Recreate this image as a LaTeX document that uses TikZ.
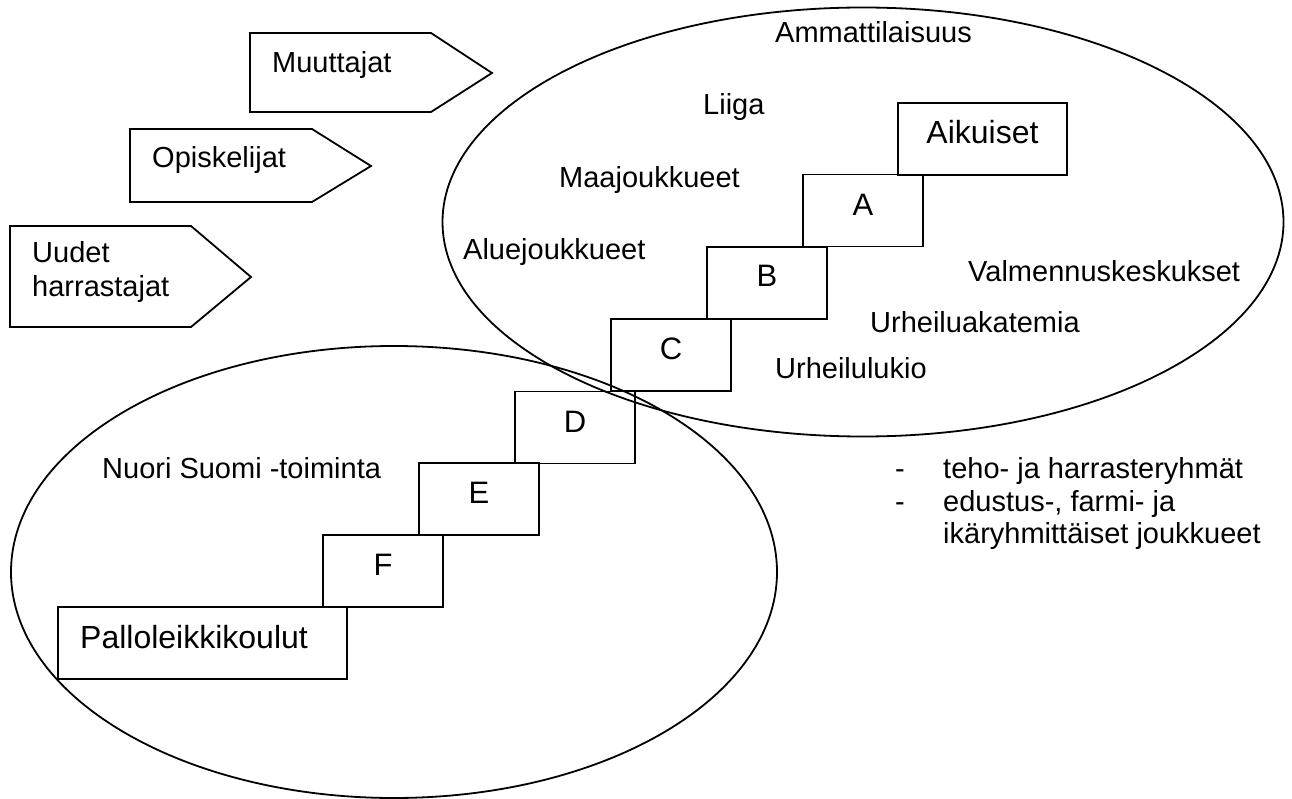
\documentclass[tikz,border=0pt]{standalone}
\usepackage{fontspec}
\setmainfont{Liberation Sans}
\begin{document}
\begin{tikzpicture}[x=1pt,y=-1pt,
  line/.style={line width=1.8pt, line join=miter},
  txt/.style={font=\fontsize{29}{34}\selectfont, inner sep=0pt, anchor=base west},
  btxt/.style={font=\fontsize{32}{36}\selectfont, inner sep=0pt, anchor=base west},
  ctxt/.style={font=\fontsize{31}{36}\selectfont, inner sep=0pt, anchor=base},
  stepbox/.style={draw, line width=1.8pt, minimum width=120pt, minimum height=72pt, inner sep=0pt}]
\useasboundingbox (0,0) rectangle (1292,799);

% ellipses
\draw[line] (863,222) ellipse [x radius=420.5pt, y radius=214.5pt];
\draw[line] (394,572) ellipse [x radius=383pt, y radius=226pt];

% entry arrows (pentagons)
\draw[line] (250,33) -- (431,33) -- (492,73) -- (431,112) -- (250,112) -- cycle;
\draw[line] (130,129) -- (312,129) -- (371,166) -- (312,202) -- (130,202) -- cycle;
\draw[line] (10,226) -- (191,226) -- (251,277) -- (191,327) -- (10,327) -- cycle;
\node[txt] (muut) at (272,73) {Muuttajat};
\node[txt] (opis) at (152,168) {Opiskelijat};
\node[txt] (uud1) at (32,263) {Uudet};
\node[txt] (uud2) at (32,297) {harrastajat};

% steps
\node[stepbox, minimum width=169pt, minimum height=72pt] (aik) at (982.5,139) {};
\node[btxt, anchor=base] (aikt) at (982.5,144) {Aikuiset};
\node[stepbox] (A) at (863,210.5) {};
\node[ctxt] (At) at (863,216) {A};
\node[stepbox] (B) at (767,283) {};
\node[ctxt] (Bt) at (767,287) {B};
\node[stepbox] (C) at (671,355) {};
\node[ctxt] (Ct) at (671,359) {C};
\node[stepbox] (D) at (575,427.5) {};
\node[ctxt] (Dt) at (575,432) {D};
\node[stepbox] (E) at (479,499) {};
\node[ctxt] (Et) at (479,503) {E};
\node[stepbox] (F) at (383,571) {};
\node[ctxt] (Ft) at (383,575) {F};
\node[stepbox, minimum width=289pt, minimum height=72pt] (pal) at (202.5,643) {};
\node[btxt] (palt) at (80,648) {Palloleikkikoulut};

% labels in upper ellipse
\node[txt] (amm) at (775,43) {Ammattilaisuus};
\node[txt] (liiga) at (703,115) {Liiga};
\node[txt] (maa) at (559,188) {Maajoukkueet};
\node[txt] (alue) at (463,260) {Aluejoukkueet};
\node[txt] (valm) at (968,282) {Valmennuskeskukset};
\node[txt] (akat) at (870,332) {Urheiluakatemia};
\node[txt] (lukio) at (775,378) {Urheilulukio};

% lower ellipse
\node[txt] (nuori) at (102,478) {Nuori Suomi -toiminta};

% bullet list
\node[txt] (d1) at (895,478) {-};
\node[txt] (l1) at (943,478) {teho- ja harrasteryhmät};
\node[txt] (d2) at (895,511) {-};
\node[txt] (l2) at (943,511) {edustus-, farmi- ja};
\node[txt] (l3) at (943,543) {ikäryhmittäiset joukkueet};
\end{tikzpicture}
\end{document}
